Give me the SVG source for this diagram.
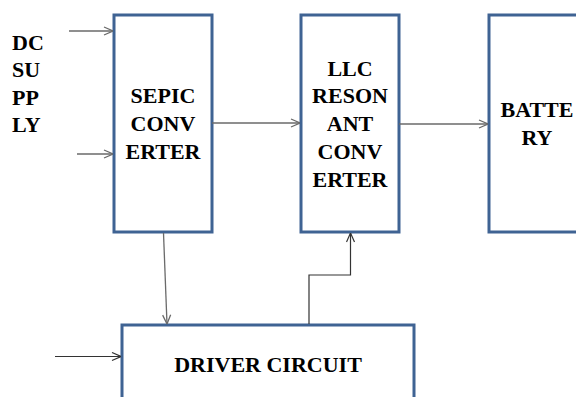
<svg xmlns="http://www.w3.org/2000/svg" width="576" height="397" viewBox="0 0 576 397">
<style>
.box{fill:#fff;stroke:#3f6393;stroke-width:3}
.t{font-family:"Liberation Serif","DejaVu Serif",serif;font-weight:bold;font-size:22px;fill:#000}
.c{text-anchor:middle}
.ln{fill:none;stroke:#6a6a6a;stroke-width:1.3}
.dk{fill:none;stroke:#333;stroke-width:1.2}
</style>
<defs>
<marker id="ah" viewBox="0 0 10 10" refX="10" refY="5" markerWidth="10" markerHeight="10" markerUnits="userSpaceOnUse" orient="auto">
<path d="M1,1 L10,5 L1,9" fill="none" stroke="#6a6a6a" stroke-width="1.3"/>
</marker>
<marker id="ahd" viewBox="0 0 10 10" refX="10" refY="5" markerWidth="10" markerHeight="10" markerUnits="userSpaceOnUse" orient="auto">
<path d="M1,1 L10,5 L1,9" fill="none" stroke="#333" stroke-width="1.2"/>
</marker>
</defs>
<rect width="576" height="397" fill="#fff"/>
<g id="dc-supply">
<text class="t" x="12" y="50">DC</text>
<text class="t" x="12" y="77">SU</text>
<text class="t" x="12" y="105">PP</text>
<text class="t" x="12" y="132">LY</text>
</g>
<g id="sepic">
<rect class="box" x="114" y="15" width="98" height="217"/>
<text class="t c" x="163" y="103">SEPIC</text>
<text class="t c" x="163" y="131">CONV</text>
<text class="t c" x="163" y="159">ERTER</text>
</g>
<g id="llc">
<rect class="box" x="301" y="15" width="98" height="217"/>
<text class="t c" x="350" y="76">LLC</text>
<text class="t c" x="350" y="103">RESON</text>
<text class="t c" x="350" y="131">ANT</text>
<text class="t c" x="350" y="159">CONV</text>
<text class="t c" x="350" y="187">ERTER</text>
</g>
<g id="battery">
<rect class="box" x="489" y="15" width="100" height="217"/>
<text class="t c" x="537" y="117">BATTE</text>
<text class="t c" x="537" y="145">RY</text>
</g>
<g id="driver">
<rect class="box" x="122" y="325" width="292" height="90"/>
<text class="t c" x="268" y="372">DRIVER CIRCUIT</text>
</g>
<g id="connectors">
<path class="ln" d="M69,31 H113" marker-end="url(#ah)"/>
<path class="ln" d="M77,154 H113" marker-end="url(#ah)"/>
<path class="ln" d="M212,123 H300" marker-end="url(#ah)"/>
<path class="ln" d="M399,124 H488" marker-end="url(#ah)"/>
<path class="ln" d="M163.5,233 L167,324" marker-end="url(#ah)"/>
<path class="dk" d="M309,324 V275 H350.5 V233" marker-end="url(#ahd)"/>
<path class="dk" d="M55,356.5 H121" marker-end="url(#ahd)"/>
</g>
</svg>
